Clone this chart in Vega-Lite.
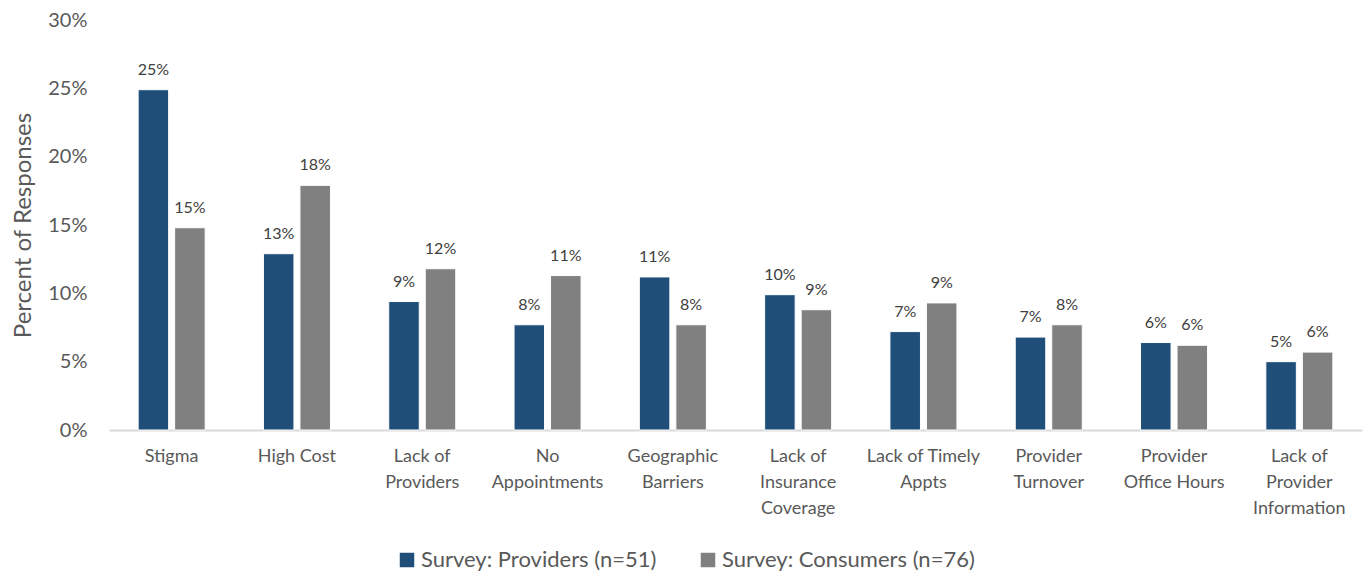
{
  "$schema": "https://vega.github.io/schema/vega-lite/v6.json",
  "autosize": {"type": "none"},
  "padding": {"left": 109, "top": 20, "right": 4, "bottom": 146},
  "width": 1253,
  "height": 410,
  "background": "white",
  "data": {
    "values": [
      {"category": "Stigma", "series": "Survey: Providers (n=51)", "value": 0.249},
      {"category": "Stigma", "series": "Survey: Consumers (n=76)", "value": 0.148},
      {"category": "High Cost", "series": "Survey: Providers (n=51)", "value": 0.129},
      {"category": "High Cost", "series": "Survey: Consumers (n=76)", "value": 0.179},
      {"category": "Lack of\nProviders", "series": "Survey: Providers (n=51)", "value": 0.094},
      {"category": "Lack of\nProviders", "series": "Survey: Consumers (n=76)", "value": 0.118},
      {"category": "No\nAppointments", "series": "Survey: Providers (n=51)", "value": 0.077},
      {"category": "No\nAppointments", "series": "Survey: Consumers (n=76)", "value": 0.113},
      {"category": "Geographic\nBarriers", "series": "Survey: Providers (n=51)", "value": 0.112},
      {"category": "Geographic\nBarriers", "series": "Survey: Consumers (n=76)", "value": 0.077},
      {"category": "Lack of\nInsurance\nCoverage", "series": "Survey: Providers (n=51)", "value": 0.099},
      {"category": "Lack of\nInsurance\nCoverage", "series": "Survey: Consumers (n=76)", "value": 0.088},
      {"category": "Lack of Timely\nAppts", "series": "Survey: Providers (n=51)", "value": 0.072},
      {"category": "Lack of Timely\nAppts", "series": "Survey: Consumers (n=76)", "value": 0.093},
      {"category": "Provider\nTurnover", "series": "Survey: Providers (n=51)", "value": 0.068},
      {"category": "Provider\nTurnover", "series": "Survey: Consumers (n=76)", "value": 0.077},
      {"category": "Provider\nOffice Hours", "series": "Survey: Providers (n=51)", "value": 0.064},
      {"category": "Provider\nOffice Hours", "series": "Survey: Consumers (n=76)", "value": 0.062},
      {"category": "Lack of\nProvider\nInformation", "series": "Survey: Providers (n=51)", "value": 0.050},
      {"category": "Lack of\nProvider\nInformation", "series": "Survey: Consumers (n=76)", "value": 0.057}
    ]
  },
  "config": {
    "view": {"stroke": null},
    "font": "Lato",
    "axis": {"labelFont": "Lato", "titleFont": "Lato"},
    "legend": {"labelFont": "Lato"}
  },
  "encoding": {
    "x": {
      "field": "category",
      "type": "nominal",
      "sort": null,
      "scale": {"paddingInner": 0.465, "paddingOuter": 0.2325},
      "axis": {
        "title": null,
        "labelAngle": 0,
        "labelExpr": "split(datum.label, '\\n')",
        "labelFontSize": 18,
        "labelColor": "#595959",
        "labelLineHeight": 26,
        "labelPadding": 17,
        "labelLimit": 200,
        "ticks": false,
        "domainColor": "#d9d9d9",
        "domainWidth": 2
      }
    },
    "xOffset": {
      "field": "series",
      "type": "nominal",
      "sort": ["Survey: Providers (n=51)", "Survey: Consumers (n=76)"],
      "scale": {"paddingInner": 0.164, "paddingOuter": 0}
    },
    "y": {
      "field": "value",
      "type": "quantitative",
      "scale": {"domain": [0, 0.3], "nice": false},
      "axis": {
        "title": "Percent of Responses",
        "titleFontSize": 24,
        "titleFontWeight": "normal",
        "titleColor": "#595959",
        "titlePadding": 12,
        "format": ".0%",
        "values": [0, 0.05, 0.1, 0.15, 0.2, 0.25, 0.3],
        "labelFontSize": 20,
        "labelColor": "#595959",
        "labelPadding": 22,
        "grid": false,
        "ticks": false,
        "domain": false
      }
    }
  },
  "layer": [
    {
      "mark": {"type": "bar", "stroke": "white", "strokeWidth": 1},
      "encoding": {
        "color": {
          "field": "series",
          "type": "nominal",
          "sort": ["Survey: Providers (n=51)", "Survey: Consumers (n=76)"],
          "scale": {"domain": ["Survey: Providers (n=51)", "Survey: Consumers (n=76)"], "range": ["#1f4e79", "#808080"]},
          "legend": {
            "title": null,
            "orient": "none",
            "direction": "horizontal",
            "legendX": 287,
            "legendY": 529,
            "symbolType": "square",
            "symbolSize": 210,
            "symbolStrokeWidth": 0,
            "labelFontSize": 22,
            "labelColor": "#595959",
            "labelLimit": 400,
            "columnPadding": 40,
            "labelOffset": 3
          }
        }
      }
    },
    {
      "mark": {"type": "text", "baseline": "bottom", "dy": -12, "fontSize": 16, "color": "#404040"},
      "encoding": {
        "text": {"field": "value", "type": "quantitative", "format": ".0%"}
      }
    }
  ]
}
